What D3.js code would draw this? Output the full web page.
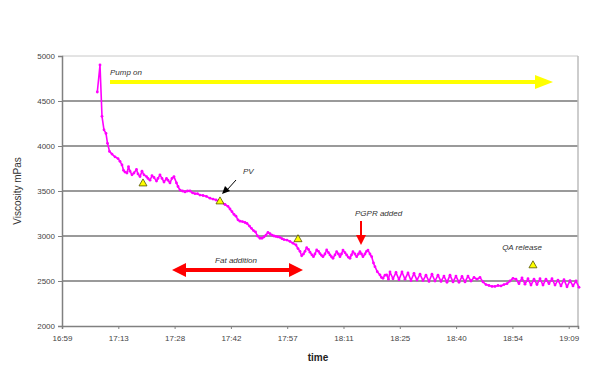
<!DOCTYPE html>
<html>
<head>
<meta charset="utf-8">
<script src="https://cdn.jsdelivr.net/npm/d3@7"></script>
<style>
  html, body { margin: 0; padding: 0; background: #fff; }
  svg { display: block; font-family: Arial, "Liberation Sans", sans-serif; }
</style>
</head>
<body>
<svg id="chart" width="598" height="371"></svg>
<script>
// time: minutes after 17:00
const timeMin = [
  8.55, 9.24, 9.75, 10.26, 10.77, 11.16, 11.67, 12.31, 13.07, 13.84,
  14.35, 14.87, 15.25, 15.63, 16.14, 16.53, 16.91, 17.42, 17.93, 18.57,
  18.96, 19.47, 19.98, 20.49, 21.13, 21.51, 22.03, 22.54, 23.05, 23.69,
  24.07, 24.58, 25.10, 25.61, 26.25, 26.63, 27.14, 27.65, 28.16, 28.80,
  29.19, 29.70, 30.34, 30.98, 31.62, 32.26, 32.90, 33.53, 34.17, 34.81,
  35.58, 36.48, 37.37, 38.14, 38.91, 39.67, 40.44, 41.21, 41.97, 42.49,
  43.00, 43.51, 44.02, 44.53, 45.04, 45.68, 46.32, 46.83, 47.47, 47.98,
  48.50, 49.01, 49.52, 50.16, 50.67, 51.18, 51.69, 52.20, 52.72, 53.23,
  53.74, 54.25, 54.76, 55.27, 55.79, 56.30, 57.06, 57.83, 58.60, 59.37,
  59.88, 60.39, 60.82, 61.28, 61.67, 62.10, 62.56, 62.95, 63.46, 63.84,
  64.22, 64.66, 65.12, 65.50, 65.89, 66.27, 66.78, 67.22, 67.68, 68.06,
  68.44, 68.83, 69.34, 69.77, 70.23, 70.62, 71.00, 71.39, 71.90, 72.33,
  72.79, 73.18, 73.56, 73.94, 74.45, 74.89, 75.35, 75.73, 76.12, 76.50,
  77.01, 77.40, 77.78, 78.29, 78.73, 79.19, 79.57, 80.16, 80.85, 81.23,
  81.62, 82.13, 82.56, 83.02,
  83.41, 84.18, 84.95, 85.71, 86.48, 87.25, 88.02, 88.78, 89.55, 90.32,
  91.09, 91.85, 92.62, 93.39, 94.15, 94.92, 95.69, 96.46, 97.22, 97.99,
  98.76, 99.53, 100.29, 101.06, 101.83, 102.60, 103.36, 104.13, 104.90, 105.67,
  106.43, 107.20, 107.97, 108.73, 109.50, 110.27, 111.04, 111.80, 112.57, 113.34,
  114.11, 114.87, 115.64, 116.41, 117.18, 117.94, 118.71, 119.48, 120.25, 121.01,
  121.78, 122.55, 123.31, 124.08, 124.85, 125.62, 126.38, 127.15, 127.92, 128.69,
  129.45, 130.22, 130.99, 131.76
];
const viscosity = [
  4600, 4900, 4330, 4180, 4140, 4030, 3940, 3910, 3880, 3860,
  3830, 3790, 3730, 3710, 3700, 3770, 3720, 3680, 3700, 3740,
  3690, 3660, 3720, 3680, 3660, 3640, 3620, 3670, 3650, 3610,
  3640, 3680, 3640, 3600, 3640, 3620, 3590, 3640, 3660, 3590,
  3550, 3510, 3500, 3490, 3500, 3500, 3480, 3470, 3470, 3455,
  3450, 3440, 3420, 3410, 3400, 3390, 3370, 3350, 3330, 3300,
  3270, 3240, 3220, 3180, 3165, 3160, 3150, 3140, 3110, 3085,
  3060, 3045, 3000, 2975, 2975, 2990, 3010, 3040, 3025, 3010,
  3000, 2995, 2990, 2985, 2970, 2960, 2955, 2940, 2920, 2900,
  2860, 2830, 2780, 2800, 2830, 2870, 2850, 2820, 2790, 2770,
  2800, 2845, 2830, 2805, 2785, 2770, 2800, 2845, 2815, 2790,
  2770, 2752, 2790, 2826, 2800, 2770, 2800, 2844, 2815, 2789,
  2765, 2752, 2790, 2826, 2800, 2770, 2800, 2826, 2800, 2770,
  2800, 2830, 2844, 2800, 2770, 2700, 2659, 2604, 2567, 2540,
  2530, 2565, 2567, 2520,
  2600, 2525, 2595, 2515, 2600, 2520, 2590, 2505, 2585, 2510,
  2575, 2505, 2565, 2495, 2575, 2500, 2565, 2495, 2555, 2485,
  2565, 2490, 2555, 2485, 2550, 2490, 2555, 2500, 2540, 2520,
  2540, 2490, 2460, 2450, 2440, 2440, 2450, 2445, 2460, 2470,
  2500, 2530, 2520, 2470, 2535, 2465, 2525, 2455, 2520, 2460,
  2525, 2455, 2520, 2470, 2525, 2455, 2510, 2445, 2515, 2435,
  2505, 2445, 2500, 2430
];
// event markers (triangles)
const markerTime = [20.24, 39.93, 59.88, 119.98];
const markerVisc = [3590, 3390, 2970, 2680];

const yTicks = [2000, 2500, 3000, 3500, 4000, 4500, 5000];
const xTickValues = [-0.48, 13.92, 28.32, 42.72, 57.12, 71.52, 85.92, 100.32, 114.72, 129.12];
const xTickLabels = ["16:59", "17:13", "17:28", "17:42", "17:57", "18:11", "18:25", "18:40", "18:54", "19:09"];

const svg = d3.select("#chart");
const L = 62, R = 578, T = 56, B = 326;
const x = d3.scaleLinear().domain([-0.48, 131.5]).range([L, R]);
const y = d3.scaleLinear().domain([2000, 5000]).range([B, T]);

// gridlines
svg.append("g").selectAll("line").data(yTicks.filter(d => d > 2000)).join("line")
  .attr("x1", L).attr("x2", R)
  .attr("y1", d => y(d)).attr("y2", d => y(d))
  .attr("stroke", d => d === 5000 ? "#c8c8c8" : "#9a9a9a")
  .attr("stroke-width", d => d === 5000 ? 1 : 2);

// right border
svg.append("line").attr("x1", R).attr("x2", R).attr("y1", T).attr("y2", B)
  .attr("stroke", "#bdbdbd").attr("stroke-width", 1.5);

// axes
const yAxis = svg.append("g").attr("transform", `translate(${L},0)`)
  .call(d3.axisLeft(y).tickValues(yTicks).tickSize(4).tickPadding(3).tickFormat(d3.format("d")));
const xAxis = svg.append("g").attr("transform", `translate(0,${B})`)
  .call(d3.axisBottom(x).tickValues(xTickValues).tickSize(3).tickPadding(6)
    .tickFormat((d, i) => xTickLabels[i]));
[yAxis, xAxis].forEach(g => {
  g.select(".domain").attr("stroke", "#808080").attr("stroke-width", 1.5);
  g.selectAll(".tick line").attr("stroke", "#808080");
  g.selectAll("text").attr("fill", "#444").style("font-size", "8px");
});

// axis titles
svg.append("text").attr("transform", "translate(21,191) rotate(-90)")
  .attr("text-anchor", "middle").attr("fill", "#333").style("font-size", "10px")
  .text("Viscosity mPas");
svg.append("text").attr("x", 318).attr("y", 361).attr("text-anchor", "middle")
  .attr("fill", "#222").style("font-size", "10px").style("font-weight", "bold").text("time");

// data line
const pts = timeMin.map((t, i) => [t, viscosity[i]]);
svg.append("path").datum(pts)
  .attr("fill", "none").attr("stroke", "#ff00ff").attr("stroke-width", 1.6)
  .attr("stroke-linejoin", "round")
  .attr("d", d3.line().x(d => x(d[0])).y(d => y(d[1])));
svg.append("g").selectAll("circle").data(pts).join("circle")
  .attr("cx", d => x(d[0])).attr("cy", d => y(d[1]))
  .attr("r", 1.4).attr("fill", "#ff00ff");

// triangles
svg.append("g").selectAll("path").data(markerTime.map((t, i) => [t, markerVisc[i]])).join("path")
  .attr("transform", d => `translate(${x(d[0])},${y(d[1])})`)
  .attr("d", "M0,-4L4,3L-4,3Z")
  .attr("fill", "#ffff00").attr("stroke", "#555500").attr("stroke-width", 0.8);

// Pump on arrow
const ann = svg.append("g");
ann.append("text").attr("x", 110).attr("y", 75).attr("fill", "#333")
  .style("font-size", "8px").style("font-style", "italic").text("Pump on");
ann.append("line").attr("x1", 110).attr("x2", 537).attr("y1", 82).attr("y2", 82)
  .attr("stroke", "#ffff00").attr("stroke-width", 4);
ann.append("path").attr("d", "M535,75L553,82L535,89Z").attr("fill", "#ffff00");

// PV
ann.append("text").attr("x", 243).attr("y", 174).attr("fill", "#333")
  .style("font-size", "8px").style("font-style", "italic").text("PV");
ann.append("line").attr("x1", 236).attr("y1", 180).attr("x2", 227).attr("y2", 190)
  .attr("stroke", "#000").attr("stroke-width", 1);
ann.append("path").attr("d", "M222,194L225,186L230,191Z").attr("fill", "#000");

// PGPR added
ann.append("text").attr("x", 355).attr("y", 216).attr("fill", "#333")
  .style("font-size", "8px").style("font-style", "italic").text("PGPR added");
ann.append("line").attr("x1", 361).attr("x2", 361).attr("y1", 221).attr("y2", 236)
  .attr("stroke", "#ff0000").attr("stroke-width", 2);
ann.append("path").attr("d", "M356,235L366,235L361,245Z").attr("fill", "#ff0000");

// Fat addition
ann.append("text").attr("x", 236).attr("y", 263).attr("text-anchor", "middle").attr("fill", "#333")
  .style("font-size", "8px").style("font-style", "italic").text("Fat addition");
ann.append("line").attr("x1", 184).attr("x2", 291).attr("y1", 270).attr("y2", 270)
  .attr("stroke", "#ff0000").attr("stroke-width", 4);
ann.append("path").attr("d", "M172,270L186,263L186,277Z").attr("fill", "#ff0000");
ann.append("path").attr("d", "M303,270L289,263L289,277Z").attr("fill", "#ff0000");

// QA release
ann.append("text").attr("x", 522).attr("y", 250).attr("text-anchor", "middle").attr("fill", "#333")
  .style("font-size", "8px").style("font-style", "italic").text("QA release");
</script>
</body>
</html>
